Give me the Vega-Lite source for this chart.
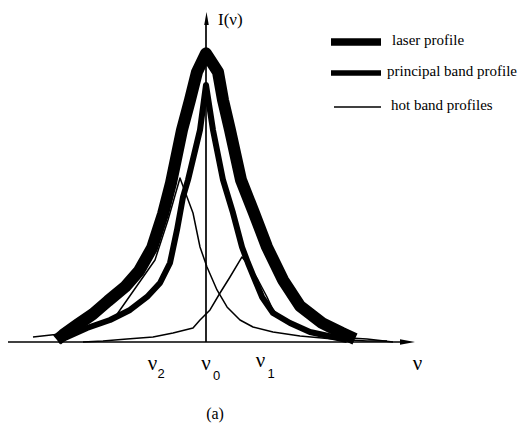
{
  "$schema": "https://vega.github.io/schema/vega-lite/v6.json",
  "width": 521,
  "height": 423,
  "autosize": {"type": "none"},
  "padding": 0,
  "background": "white",
  "config": {"view": {"stroke": null}},
  "resolve": {"scale": {"strokeWidth": "independent"}},
  "datasets": {
    "curves": [
      {"profile": "laser profile", "curve": "laser", "nu": -14.9, "I": 0.68},
      {"profile": "laser profile", "curve": "laser", "nu": -14.3, "I": 2.39},
      {"profile": "laser profile", "curve": "laser", "nu": -12.9, "I": 5.8},
      {"profile": "laser profile", "curve": "laser", "nu": -11.3, "I": 9.56},
      {"profile": "laser profile", "curve": "laser", "nu": -9.8, "I": 13.99},
      {"profile": "laser profile", "curve": "laser", "nu": -8.1, "I": 18.77},
      {"profile": "laser profile", "curve": "laser", "nu": -6.7, "I": 24.23},
      {"profile": "laser profile", "curve": "laser", "nu": -5.4, "I": 32.08},
      {"profile": "laser profile", "curve": "laser", "nu": -4.3, "I": 43.69},
      {"profile": "laser profile", "curve": "laser", "nu": -3.5, "I": 54.27},
      {"profile": "laser profile", "curve": "laser", "nu": -2.4, "I": 72.35},
      {"profile": "laser profile", "curve": "laser", "nu": -1.6, "I": 82.59},
      {"profile": "laser profile", "curve": "laser", "nu": -0.9, "I": 92.15},
      {"profile": "laser profile", "curve": "laser", "nu": 0, "I": 98.5},
      {"profile": "laser profile", "curve": "laser", "nu": 1.2, "I": 92.15},
      {"profile": "laser profile", "curve": "laser", "nu": 1.7, "I": 82.59},
      {"profile": "laser profile", "curve": "laser", "nu": 2.4, "I": 72.35},
      {"profile": "laser profile", "curve": "laser", "nu": 3.5, "I": 55.29},
      {"profile": "laser profile", "curve": "laser", "nu": 4.8, "I": 44.03},
      {"profile": "laser profile", "curve": "laser", "nu": 6.1, "I": 32.42},
      {"profile": "laser profile", "curve": "laser", "nu": 7.7, "I": 21.16},
      {"profile": "laser profile", "curve": "laser", "nu": 9.4, "I": 12.29},
      {"profile": "laser profile", "curve": "laser", "nu": 11.6, "I": 6.48},
      {"profile": "laser profile", "curve": "laser", "nu": 13.6, "I": 3.07},
      {"profile": "laser profile", "curve": "laser", "nu": 14.9, "I": 1.02},

      {"profile": "principal band profile", "curve": "principal", "nu": -14.8, "I": 0.34},
      {"profile": "principal band profile", "curve": "principal", "nu": -13.9, "I": 1.71},
      {"profile": "principal band profile", "curve": "principal", "nu": -11.9, "I": 4.78},
      {"profile": "principal band profile", "curve": "principal", "nu": -9.6, "I": 7.51},
      {"profile": "principal band profile", "curve": "principal", "nu": -7.6, "I": 10.92},
      {"profile": "principal band profile", "curve": "principal", "nu": -5.9, "I": 15.36},
      {"profile": "principal band profile", "curve": "principal", "nu": -4.6, "I": 20.14},
      {"profile": "principal band profile", "curve": "principal", "nu": -3.6, "I": 26.96},
      {"profile": "principal band profile", "curve": "principal", "nu": -2.9, "I": 38.23},
      {"profile": "principal band profile", "curve": "principal", "nu": -2.3, "I": 49.49},
      {"profile": "principal band profile", "curve": "principal", "nu": -1.8, "I": 55.29},
      {"profile": "principal band profile", "curve": "principal", "nu": -1.2, "I": 63.82},
      {"profile": "principal band profile", "curve": "principal", "nu": -0.6, "I": 72.35},
      {"profile": "principal band profile", "curve": "principal", "nu": 0, "I": 87.71},
      {"profile": "principal band profile", "curve": "principal", "nu": 0.7, "I": 72.35},
      {"profile": "principal band profile", "curve": "principal", "nu": 1.7, "I": 55.29},
      {"profile": "principal band profile", "curve": "principal", "nu": 2.7, "I": 44.03},
      {"profile": "principal band profile", "curve": "principal", "nu": 3.6, "I": 32.42},
      {"profile": "principal band profile", "curve": "principal", "nu": 4.2, "I": 26.96},
      {"profile": "principal band profile", "curve": "principal", "nu": 4.9, "I": 21.16},
      {"profile": "principal band profile", "curve": "principal", "nu": 5.6, "I": 15.36},
      {"profile": "principal band profile", "curve": "principal", "nu": 6.7, "I": 9.9},
      {"profile": "principal band profile", "curve": "principal", "nu": 8.4, "I": 6.48},
      {"profile": "principal band profile", "curve": "principal", "nu": 10.4, "I": 3.41},
      {"profile": "principal band profile", "curve": "principal", "nu": 12.7, "I": 1.71},
      {"profile": "principal band profile", "curve": "principal", "nu": 14.1, "I": 0.68},

      {"profile": "hot band profiles", "curve": "hot2", "nu": -17.3, "I": 1.71},
      {"profile": "hot band profiles", "curve": "hot2", "nu": -14.6, "I": 2.73},
      {"profile": "hot band profiles", "curve": "hot2", "nu": -12.1, "I": 4.44},
      {"profile": "hot band profiles", "curve": "hot2", "nu": -9.3, "I": 7.51},
      {"profile": "hot band profiles", "curve": "hot2", "nu": -7.2, "I": 17.75},
      {"profile": "hot band profiles", "curve": "hot2", "nu": -5.1, "I": 27.99},
      {"profile": "hot band profiles", "curve": "hot2", "nu": -3.8, "I": 41.64},
      {"profile": "hot band profiles", "curve": "hot2", "nu": -2.6, "I": 55.97},
      {"profile": "hot band profiles", "curve": "hot2", "nu": -1.9, "I": 49.49},
      {"profile": "hot band profiles", "curve": "hot2", "nu": -1.3, "I": 44.03},
      {"profile": "hot band profiles", "curve": "hot2", "nu": -0.6, "I": 32.42},
      {"profile": "hot band profiles", "curve": "hot2", "nu": 0.1, "I": 25.6},
      {"profile": "hot band profiles", "curve": "hot2", "nu": 1.1, "I": 17.75},
      {"profile": "hot band profiles", "curve": "hot2", "nu": 2.1, "I": 11.95},
      {"profile": "hot band profiles", "curve": "hot2", "nu": 3.4, "I": 7.51},
      {"profile": "hot band profiles", "curve": "hot2", "nu": 4.7, "I": 5.12},
      {"profile": "hot band profiles", "curve": "hot2", "nu": 6.7, "I": 3.41},
      {"profile": "hot band profiles", "curve": "hot2", "nu": 9.4, "I": 2.05},
      {"profile": "hot band profiles", "curve": "hot2", "nu": 12.7, "I": 1.02},
      {"profile": "hot band profiles", "curve": "hot2", "nu": 16.1, "I": 0.34},
      {"profile": "hot band profiles", "curve": "hot2", "nu": 18.1, "I": 0.34},

      {"profile": "hot band profiles", "curve": "hot1", "nu": -12.3, "I": 0},
      {"profile": "hot band profiles", "curve": "hot1", "nu": -10.3, "I": 0.34},
      {"profile": "hot band profiles", "curve": "hot1", "nu": -7.9, "I": 1.02},
      {"profile": "hot band profiles", "curve": "hot1", "nu": -5.3, "I": 1.71},
      {"profile": "hot band profiles", "curve": "hot1", "nu": -3.3, "I": 3.07},
      {"profile": "hot band profiles", "curve": "hot1", "nu": -1.3, "I": 4.78},
      {"profile": "hot band profiles", "curve": "hot1", "nu": -0.6, "I": 7.51},
      {"profile": "hot band profiles", "curve": "hot1", "nu": 0.4, "I": 10.92},
      {"profile": "hot band profiles", "curve": "hot1", "nu": 1.4, "I": 16.72},
      {"profile": "hot band profiles", "curve": "hot1", "nu": 2.4, "I": 22.18},
      {"profile": "hot band profiles", "curve": "hot1", "nu": 3.6, "I": 29.01},
      {"profile": "hot band profiles", "curve": "hot1", "nu": 4.4, "I": 25.6},
      {"profile": "hot band profiles", "curve": "hot1", "nu": 5.2, "I": 21.16},
      {"profile": "hot band profiles", "curve": "hot1", "nu": 6.1, "I": 15.36},
      {"profile": "hot band profiles", "curve": "hot1", "nu": 6.7, "I": 10.92},
      {"profile": "hot band profiles", "curve": "hot1", "nu": 8.1, "I": 6.48},
      {"profile": "hot band profiles", "curve": "hot1", "nu": 10.1, "I": 3.41},
      {"profile": "hot band profiles", "curve": "hot1", "nu": 12.7, "I": 1.71},
      {"profile": "hot band profiles", "curve": "hot1", "nu": 16.1, "I": 1.02},
      {"profile": "hot band profiles", "curve": "hot1", "nu": 18.7, "I": 0}
    ],
    "key": [
      {"profile": "laser profile", "nu": 12.5, "nu2": 17.5, "tx": 18.6, "I": 102.4},
      {"profile": "principal band profile", "nu": 12.5, "nu2": 17.5, "tx": 18.1, "I": 91.8},
      {"profile": "hot band profiles", "nu": 12.8, "nu2": 17.5, "tx": 18.5, "I": 80.2}
    ],
    "axes": [
      {"axis": "nu", "nu": -19.8, "nu2": 19.6, "I": 0, "I2": 0},
      {"axis": "I", "nu": 0, "nu2": 0, "I": 0, "I2": 108.9}
    ],
    "arrows": [
      {"dir": "right", "nu": 20.15, "I": 0},
      {"dir": "up", "nu": 0.05, "I": 110.4}
    ],
    "labels": [
      {"kind": "tick", "text": "ν", "nu": -5.35, "I": -9.56},
      {"kind": "tick", "text": "ν", "nu": 0, "I": -9.56},
      {"kind": "tick", "text": "ν", "nu": 5.45, "I": -8.53},
      {"kind": "tick", "text": "ν", "nu": 21.15, "I": -9.56},
      {"kind": "sub", "text": "2", "nu": -4.85, "I": -12.29},
      {"kind": "sub", "text": "0", "nu": 0.7, "I": -12.97},
      {"kind": "sub", "text": "1", "nu": 6.15, "I": -12.29},
      {"kind": "ytitle", "text": "I(ν)", "nu": 1.2, "I": 108.19},
      {"kind": "caption", "text": "(a)", "nu": 0.9, "I": -26.28}
    ]
  },
  "encoding": {
    "x": {"field": "nu", "type": "quantitative", "axis": null, "scale": {"domain": [-20.6, 31.5], "nice": false, "zero": false}},
    "y": {"field": "I", "type": "quantitative", "axis": null, "scale": {"domain": [-27.65, 116.72], "nice": false, "zero": false}}
  },
  "layer": [
    {
      "data": {"name": "axes"},
      "mark": {"type": "rule", "color": "black", "strokeWidth": 1.7},
      "encoding": {
        "x2": {"field": "nu2"},
        "y2": {"field": "I2"}
      }
    },
    {
      "data": {"name": "curves"},
      "mark": {"type": "line", "color": "black", "strokeJoin": "round", "strokeCap": "butt"},
      "encoding": {
        "detail": {"field": "curve", "type": "nominal"},
        "strokeWidth": {
          "field": "profile",
          "type": "nominal",
          "scale": {"type": "ordinal", "domain": ["laser profile", "principal band profile", "hot band profiles"], "range": [12, 6, 1.5]},
          "legend": null
        }
      }
    },
    {
      "data": {"name": "key"},
      "mark": {"type": "rule", "color": "black", "strokeCap": "butt"},
      "encoding": {
        "x2": {"field": "nu2"},
        "strokeWidth": {
          "field": "profile",
          "type": "nominal",
          "scale": {"type": "ordinal", "domain": ["laser profile", "principal band profile", "hot band profiles"], "range": [7.5, 5.5, 1.5]},
          "legend": null
        }
      }
    },
    {
      "data": {"name": "key"},
      "mark": {"type": "text", "font": "Liberation Serif", "fontSize": 15, "align": "left", "baseline": "middle", "dy": -2, "color": "black"},
      "encoding": {
        "x": {"field": "tx", "type": "quantitative"},
        "text": {"field": "profile"}
      }
    },
    {
      "data": {"name": "arrows"},
      "transform": [{"filter": "datum.dir === 'right'"}],
      "mark": {"type": "point", "filled": true, "color": "black", "opacity": 1, "shape": "M-1,-0.37L1,0L-1,0.37Z", "size": 225}
    },
    {
      "data": {"name": "arrows"},
      "transform": [{"filter": "datum.dir === 'up'"}],
      "mark": {"type": "point", "filled": true, "color": "black", "opacity": 1, "shape": "M-0.35,1L0,-1L0.35,1Z", "size": 169}
    },
    {
      "data": {"name": "labels"},
      "transform": [{"filter": "datum.kind === 'tick'"}],
      "mark": {"type": "text", "font": "Liberation Serif", "fontSize": 21, "align": "center", "baseline": "alphabetic", "color": "black"},
      "encoding": {"text": {"field": "text"}}
    },
    {
      "data": {"name": "labels"},
      "transform": [{"filter": "datum.kind === 'sub'"}],
      "mark": {"type": "text", "font": "Liberation Sans", "fontSize": 13, "align": "left", "baseline": "alphabetic", "color": "black"},
      "encoding": {"text": {"field": "text"}}
    },
    {
      "data": {"name": "labels"},
      "transform": [{"filter": "datum.kind === 'ytitle'"}],
      "mark": {"type": "text", "font": "Liberation Serif", "fontSize": 17, "align": "left", "baseline": "alphabetic", "color": "black"},
      "encoding": {"text": {"field": "text"}}
    },
    {
      "data": {"name": "labels"},
      "transform": [{"filter": "datum.kind === 'caption'"}],
      "mark": {"type": "text", "font": "Liberation Serif", "fontSize": 16, "align": "center", "baseline": "alphabetic", "color": "black"},
      "encoding": {"text": {"field": "text"}}
    }
  ]
}
